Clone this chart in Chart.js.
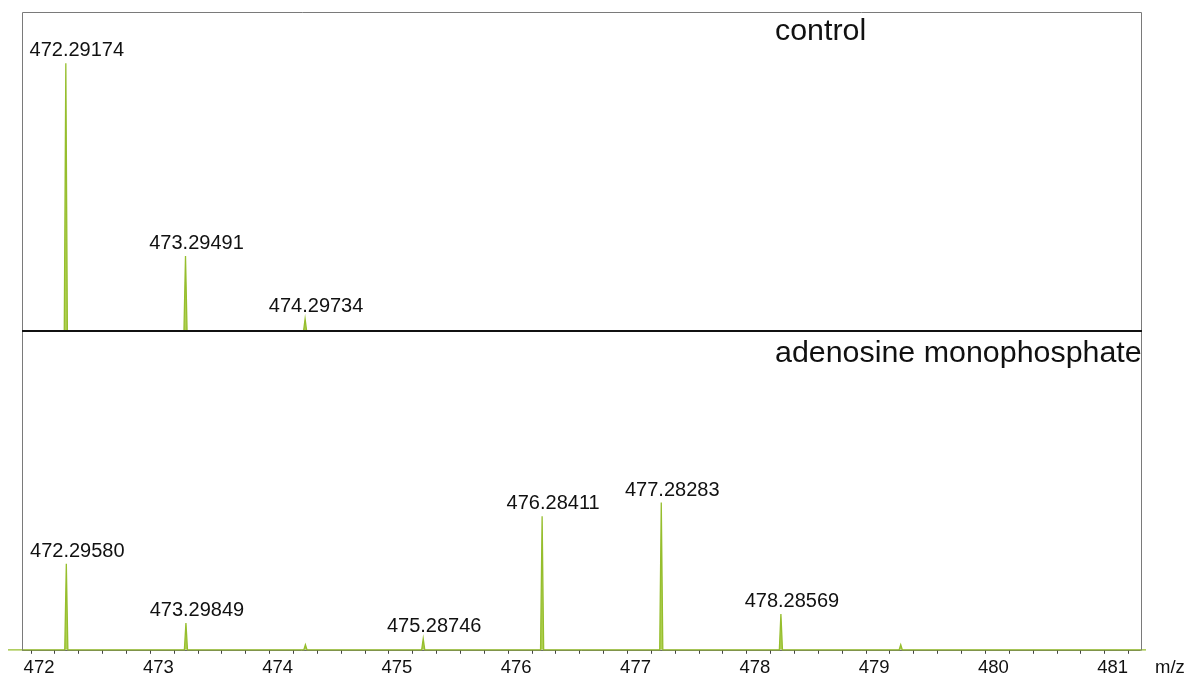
<!DOCTYPE html>
<html>
<head>
<meta charset="utf-8">
<script src="https://cdn.jsdelivr.net/npm/chart.js@4/dist/chart.umd.min.js"></script>
<style>
  html, body { margin: 0; padding: 0; background: #fff; overflow: hidden; }
  #wrap { position: relative; width: 1192px; height: 677px; }
  canvas { position: absolute; left: 0; top: 0; }
</style>
</head>
<body>
<div id="wrap">
  <canvas id="ampChart" width="1192" height="682"></canvas>
  <canvas id="controlChart" width="1192" height="332"></canvas>
</div>
<script>
// m/z axis
const mzMin = 471.807;
const mzMax = 481.346;
const boxLeft = 471.925;
const boxRight = 481.302;
const mzStep = 0.2;

// control spectrum (relative intensity, % of panel height)
const controlMz = [472.29174, 473.29491, 474.29734];
const controlIntensity = [83.9, 23.5, 3.8];
const controlLabels = ['472.29174', '473.29491', '474.29734'];

// adenosine monophosphate spectrum
const ampMz = [472.29580, 473.29849, 474.300, 475.28746, 476.28411, 477.28283, 478.28569, 479.290];
const ampIntensity = [27.0, 8.4, 1.6, 3.5, 41.9, 46.2, 11.2, 1.6];
const ampLabels = ['472.29580', '473.29849', '', '475.28746', '476.28411', '477.28283', '478.28569', ''];

const panelTitles = ['control', 'adenosine monophosphate'];

const peakHalfWidth = 0.013;
const FONT = '"Liberation Sans", Arial, sans-serif';

function spectrum(mz, intensity, withBaseline) {
    const pts = [];
    if (withBaseline) pts.push({x: mzMin, y: 0});
    mz.forEach((m, i) => {
        pts.push({x: m - peakHalfWidth, y: 0});
        pts.push({x: m, y: intensity[i]});
        pts.push({x: m + peakHalfWidth, y: 0});
    });
    if (withBaseline) pts.push({x: mzMax, y: 0});
    return pts;
}

// peak labels + panel frame
function panelPlugin(mz, intensity, labels, title, titleY, isTop) {
    return {
        id: 'panel',
        beforeDatasetsDraw(chart) {
            const {ctx, chartArea, scales} = chart;
            const l = scales.x.getPixelForValue(boxLeft);
            const r = scales.x.getPixelForValue(boxRight);
            ctx.save();
            ctx.strokeStyle = '#444';
            ctx.lineWidth = 1;
            if (!isTop) {
                ctx.beginPath();
                ctx.moveTo(l, chartArea.bottom + 0.5);
                ctx.lineTo(r, chartArea.bottom + 0.5);
                ctx.stroke();
            }
            ctx.restore();
        },
        afterDatasetsDraw(chart) {
            const {ctx, chartArea, scales} = chart;
            const l = Math.round(scales.x.getPixelForValue(boxLeft)) + 0.5;
            const r = Math.round(scales.x.getPixelForValue(boxRight)) + 0.5;
            const t = Math.round(chartArea.top) + 0.5;
            const b = Math.round(chartArea.bottom) + 0.5;
            ctx.save();
            ctx.strokeStyle = '#7a7a7a';
            ctx.lineWidth = 1;
            ctx.beginPath();
            if (isTop) {
                ctx.moveTo(l, b);
                ctx.lineTo(l, t);
                ctx.lineTo(r, t);
                ctx.lineTo(r, b);
            } else {
                ctx.moveTo(l, t);
                ctx.lineTo(l, b);
                ctx.moveTo(r, t);
                ctx.lineTo(r, b);
            }
            ctx.stroke();
            if (isTop) {
                // divider between the two panels, covers the control baseline
                ctx.strokeStyle = '#111';
                ctx.lineWidth = 2;
                ctx.beginPath();
                ctx.moveTo(l - 0.5, chartArea.bottom);
                ctx.lineTo(r + 0.5, chartArea.bottom);
                ctx.stroke();
            }

            ctx.fillStyle = '#111';
            ctx.font = '20px ' + FONT;
            ctx.textAlign = 'center';
            ctx.textBaseline = 'alphabetic';
            mz.forEach((m, i) => {
                if (!labels[i]) return;
                const px = scales.x.getPixelForValue(m);
                const py = scales.y.getPixelForValue(intensity[i]);
                ctx.fillText(labels[i], px + 11, py - 7);
            });

            ctx.font = '30.4px ' + FONT;
            ctx.textAlign = 'left';
            ctx.fillText(title, 775, titleY);
            if (!isTop) {
                ctx.font = '18.5px ' + FONT;
                ctx.fillText('m/z', 1155, 673);
            }
            ctx.restore();
        }
    };
}

function baseOptions(padding, showAxis) {
    return {
        responsive: false,
        animation: false,
        devicePixelRatio: 1,
        layout: {padding: padding},
        plugins: {legend: {display: false}, tooltip: {enabled: false}},
        scales: {
            x: {
                type: 'linear',
                min: mzMin,
                max: mzMax,
                display: showAxis,
                border: {display: false},
                grid: {drawOnChartArea: false, drawTicks: true, tickLength: 4, tickColor: '#444'},
                ticks: {
                    stepSize: mzStep,
                    includeBounds: false,
                    autoSkip: false,
                    maxRotation: 0,
                    labelOffset: 8,
                    padding: 3,
                    color: '#111',
                    font: {family: FONT, size: 18.5},
                    callback: v => Math.abs(v - Math.round(v)) < 1e-6 ? String(Math.round(v)) : ''
                }
            },
            y: {min: 0, max: 100, display: false}
        }
    };
}

const peakLine = {
    borderColor: 'rgb(150,190,45)',
    backgroundColor: 'rgba(160,200,50,0.85)',
    borderWidth: 1.3,
    pointRadius: 0,
    tension: 0,
    fill: 'origin',
    clip: false
};

new Chart(document.getElementById('controlChart').getContext('2d'), {
    type: 'line',
    data: {datasets: [Object.assign({data: spectrum(controlMz, controlIntensity, false)}, peakLine)]},
    options: baseOptions({left: 8, right: 46, top: 12, bottom: 1}, false),
    plugins: [panelPlugin(controlMz, controlIntensity, controlLabels, panelTitles[0], 40, true)]
});

new Chart(document.getElementById('ampChart').getContext('2d'), {
    type: 'line',
    data: {datasets: [Object.assign({data: spectrum(ampMz, ampIntensity, true)}, peakLine)]},
    options: baseOptions({left: 8, right: 46, top: 331, bottom: 0}, true),
    plugins: [panelPlugin(ampMz, ampIntensity, ampLabels, panelTitles[1], 362, false)]
});
</script>
</body>
</html>
